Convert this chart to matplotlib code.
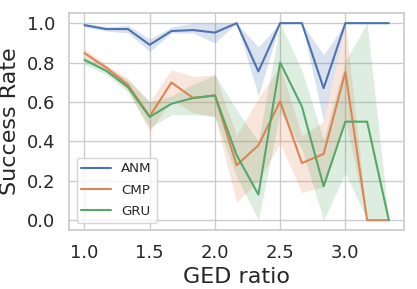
import numpy as np
import matplotlib
matplotlib.use("Agg")
import matplotlib.pyplot as plt
import seaborn as sns

ged_ratio = [1 + k / 6 for k in range(15)]

anm = [0.99, 0.97, 0.97, 0.89, 0.96, 0.965, 0.952, 1.0, 0.755, 1.0, 1.0, 0.67, 1.0, 1.0, 1.0]
anm_lo = [0.98, 0.96, 0.95, 0.856, 0.95, 0.95, 0.90, 1.0, 0.63, 1.0, 1.0, 0.50, 1.0, 1.0, 1.0]
anm_hi = [1.0, 0.98, 0.99, 0.92, 0.98, 1.0, 1.0, 1.0, 0.88, 1.0, 1.0, 0.84, 1.0, 1.0, 1.0]

cmp_ = [0.848, 0.775, 0.687, 0.527, 0.699, 0.62, 0.633, 0.279, 0.38, 0.603, 0.29, 0.336, 0.752, 0.0, 0.0]
cmp_lo = [0.83, 0.76, 0.66, 0.45, 0.61, 0.545, 0.527, 0.091, 0.20, 0.39, 0.14, 0.17, 0.51, 0.0, 0.0]
cmp_hi = [0.87, 0.79, 0.72, 0.60, 0.763, 0.73, 0.738, 0.43, 0.62, 0.78, 0.43, 0.50, 1.0, 0.0, 0.0]

gru = [0.814, 0.758, 0.676, 0.524, 0.591, 0.62, 0.633, 0.33, 0.13, 0.80, 0.577, 0.172, 0.50, 0.50, 0.0]
gru_lo = [0.79, 0.74, 0.65, 0.47, 0.535, 0.535, 0.527, 0.22, 0.0, 0.55, 0.36, 0.0, 0.24, 0.0, 0.0]
gru_hi = [0.83, 0.78, 0.71, 0.60, 0.63, 0.69, 0.738, 0.56, 0.40, 1.0, 0.76, 0.41, 0.81, 1.0, 0.0]

series = [("ANM", anm, anm_lo, anm_hi), ("CMP", cmp_, cmp_lo, cmp_hi), ("GRU", gru, gru_lo, gru_hi)]

sns.set_theme(style="whitegrid")
colors = sns.color_palette("deep")

fig = plt.figure(figsize=(4.17, 2.89), dpi=100)
ax = fig.add_axes([0.166, 0.204, 0.803, 0.75])
for i, (name, y, lo, hi) in enumerate(series):
    ax.plot(ged_ratio, y, color=colors[i], label=name, lw=1.5)
    ax.fill_between(ged_ratio, lo, hi, color=colors[i], alpha=0.2, lw=0)

ax.set_xlabel("GED ratio", fontsize=16)
ax.set_ylabel("Success Rate", fontsize=16, labelpad=5)
ax.tick_params(labelsize=13, pad=3.8)
ax.set_xticks([1.0, 1.5, 2.0, 2.5, 3.0])
ax.set_yticks([0.0, 0.2, 0.4, 0.6, 0.8, 1.0])
ax.legend(loc="lower left", fontsize=9.6, handlelength=2.23, handletextpad=0.75,
          borderpad=0.36, labelspacing=0.62, borderaxespad=0.55)
fig.savefig("out.png", dpi=100)
